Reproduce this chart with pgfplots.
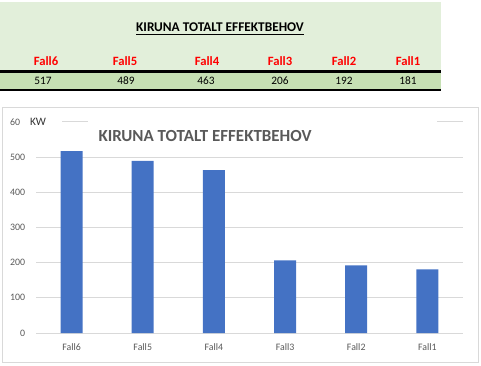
\documentclass[border=0pt]{standalone}
\usepackage{pgfplots}
\pgfplotsset{compat=1.18}
\usepackage{fontspec}
\setmainfont{Carlito}
\definecolor{barblue}{HTML}{4472C4}
\definecolor{lgreen}{HTML}{E2EFDA}
\definecolor{mgreen}{HTML}{C6E0B4}
\definecolor{txtgray}{HTML}{595959}
\definecolor{gridgray}{HTML}{D9D9D9}
\definecolor{redlab}{HTML}{FF0000}
\begin{document}
\begin{tikzpicture}[x=0.75pt,y=0.75pt]
\path[use as bounding box] (0,0) rectangle (481,365);
% ---- table ----
\fill[lgreen] (0,363) rectangle (441,293);
\fill[mgreen] (0,293) rectangle (441,275);
\draw[line width=1.7pt] (0,293.5) -- (441,293.5);
\draw[line width=1.5pt] (0,275) -- (441,275);
\node[font=\fontsize{10}{12}\selectfont\bfseries, inner sep=0pt] at (220,336) {\underline{KIRUNA TOTALT EFFEKTBEHOV}};
\foreach \x/\l in {46/Fall6,125/Fall5,207/Fall4,280/Fall3,344/Fall2,408/Fall1}
  \node[font=\fontsize{9.5}{11}\selectfont\bfseries, text=redlab, inner sep=0pt] at (\x,304) {\l};
\foreach \x/\v in {43/517,126/489,206/463,280/206,344/192,408/181}
  \node[font=\fontsize{8.5}{10}\selectfont, inner sep=0pt] at (\x,284) {\v};
% ---- chart frame ----
\draw[gridgray, line width=0.75pt] (2.5,258) rectangle (478,3);
\begin{axis}[
  at={(27pt,24pt)}, anchor=south west,
  scale only axis, width=320.25pt, height=158.4pt,
  xmin=-0.5, xmax=5.5, ymin=0, ymax=600,
  xtick={0,...,5}, xticklabels={Fall6,Fall5,Fall4,Fall3,Fall2,Fall1},
  ytick={0,100,...,600},
  axis x line*=bottom, axis y line*=left,
  x axis line style={gridgray, line width=0.75pt, -},
  y axis line style={draw=none},
  ymajorgrids, grid style={gridgray, line width=0.75pt},
  major tick length=0pt,
  tick label style={font=\fontsize{7.4}{8}\selectfont, text=txtgray},
  /pgf/number format/assume math mode=true,
  yticklabel style={anchor=east, inner sep=0pt, xshift=-8pt},
  xticklabel style={anchor=north, inner sep=0pt, yshift=-8pt},
  clip=false,
]
\addplot[ybar, bar width=16.5pt, fill=barblue, draw=none] coordinates {(0,517) (1,489) (2,463) (3,206) (4,192) (5,181)};
\end{axis}
% KW label over 600 tick
\fill[white] (20.2,251) rectangle (62,236);
\node[font=\fontsize{8.5}{9}\selectfont, text=black!80, inner sep=0pt] at (38,243.5) {KW};
% title box
\fill[white] (88,252) rectangle (437,220);
\node[font=\fontsize{12.7}{15}\selectfont\bfseries, text=txtgray, inner sep=0pt] at (205,229) {KIRUNA TOTALT EFFEKTBEHOV};
\end{tikzpicture}
\end{document}
